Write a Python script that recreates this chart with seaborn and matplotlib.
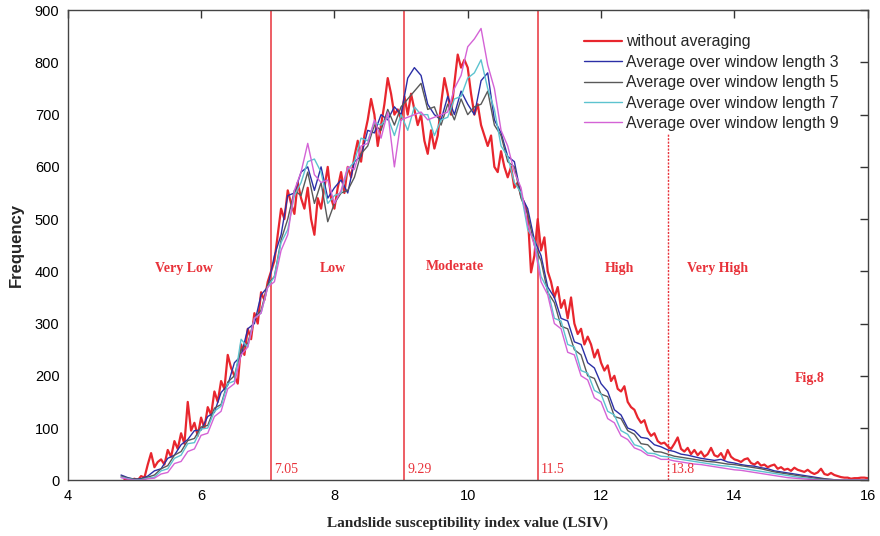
import numpy as np
import pandas as pd
import matplotlib
matplotlib.use("Agg")
from matplotlib import pyplot as plt
import seaborn as sns

# LSIV grids (bin centres)
lsiv_raw = np.round(np.arange(4.85, 16.001, 0.05), 2)
lsiv_avg = np.round(np.arange(4.8, 16.001, 0.1), 1)

# frequency without averaging (step 0.05)
freq_raw = [
    2, 0, 0,
    3, 0, 8, 5, 30, 52, 25, 35, 40, 30, 58, 45, 75, 60, 90, 70, 150, 95, 110, 85,
    120, 100, 140, 125, 170, 150, 190, 175, 240, 215, 200, 185, 260, 240, 290, 270, 320, 300, 360, 345,
    380, 400, 420, 470, 520, 500, 555, 530, 510, 570, 540, 520, 560, 500, 470, 540, 520, 560, 600, 540,
    520, 560, 590, 550, 600, 580, 620, 650, 610, 660, 690, 730, 700, 640, 680, 720, 770, 740, 700, 710,
    690, 735, 700, 740, 710, 680, 700, 650, 625, 670, 635, 660, 720, 770, 740, 700, 760, 815, 790, 805,
    790, 740, 700, 720, 680, 660, 640, 660, 600, 590, 630, 600, 580, 600, 560, 570, 545, 530, 510, 398,
    430, 500, 440, 465, 400, 380, 350, 370, 330, 345, 310, 350, 300, 280, 290, 260, 275, 260, 235, 250,
    225, 210, 220, 190, 200, 175, 170, 180, 150, 140, 135, 120, 110, 115, 95, 85, 90, 75, 70, 72,
    65, 60, 70, 82, 60, 55, 62, 50, 58, 48, 55, 45, 50, 62, 48, 45, 52, 40, 58, 45,
    40, 38, 35, 40, 42, 33, 30, 35, 28, 30, 25, 28, 30, 22, 25, 20, 22, 18, 24, 20,
    18, 16, 20, 15, 12, 15, 22, 12, 10, 14, 10, 8, 6, 5, 5, 3, 4, 4, 5, 5,
    4,
]

# averaged frequencies (step 0.1)
freq_w3 = [
    10, 5, 2, 3, 8, 18, 22, 42, 48, 68, 78, 95,
    96, 122, 130, 168, 182, 225, 238, 290, 300, 355,
    370, 430, 470, 545, 550, 590, 600, 555, 600, 540,
    560, 575, 550, 610, 620, 670, 665, 700, 690, 715,
    700, 770, 790, 775, 720, 700, 690, 735, 700, 745,
    720, 700, 765, 780, 690, 665, 620, 610, 545, 520,
    460, 430, 370, 350, 310, 305, 265, 260, 225, 215,
    185, 170, 135, 125, 100, 95, 82, 80, 68, 64,
    58, 55, 50, 48, 45, 42, 40, 38, 40, 35,
    33, 30, 28, 27, 24, 22, 18, 16, 14, 12,
    10, 8, 6, 4, 2, 1, 0, 0, 0, 0, 0,
]
freq_w5 = [
    8, 4, 2, 2, 6, 10, 22, 28, 48, 55, 76, 80,
    102, 105, 138, 145, 188, 200, 250, 262, 310, 325,
    375, 390, 460, 500, 555, 545, 590, 530, 570, 495,
    530, 550, 555, 580, 625, 640, 680, 670, 710, 680,
    715, 730, 745, 760, 710, 715, 680, 720, 690, 730,
    700, 715, 720, 745, 680, 660, 610, 600, 540, 510,
    450, 420, 360, 340, 295, 290, 250, 240, 200, 195,
    165, 160, 122, 118, 95, 88, 70, 68, 55, 54,
    50, 46, 44, 42, 40, 38, 36, 35, 33, 31,
    30, 28, 26, 24, 22, 19, 16, 14, 12, 10,
    8, 6, 4, 3, 2, 1, 0, 0, 0, 0, 0,
]
freq_w7 = [
    6, 3, 1, 1, 4, 6, 18, 22, 42, 48, 70, 72,
    98, 100, 132, 142, 185, 190, 270, 255, 310, 320,
    370, 390, 455, 480, 545, 570, 610, 615, 590, 530,
    545, 550, 595, 610, 655, 650, 685, 680, 695, 660,
    700, 670, 715, 700, 700, 660, 690, 695, 730, 735,
    770, 780, 805, 750, 710, 640, 620, 570, 550, 480,
    460, 390, 365, 310, 305, 260, 255, 210, 205, 172,
    165, 132, 125, 95, 88, 68, 64, 52, 51, 46,
    45, 42, 40, 38, 36, 34, 32, 30, 28, 27,
    25, 23, 21, 19, 17, 15, 13, 11, 9, 7,
    5, 4, 2, 1, 0, 0, 0, 0, 0, 0, 0,
]
freq_w9 = [
    5, 2, 0, 0, 3, 4, 12, 15, 32, 36, 55, 60,
    86, 90, 122, 132, 175, 185, 240, 255, 310, 320,
    370, 380, 440, 470, 555, 590, 645, 585, 570, 575,
    530, 555, 600, 595, 640, 645, 690, 655, 705, 600,
    690, 695, 700, 705, 690, 695, 700, 705, 750, 775,
    830, 845, 865, 795, 750, 670, 640, 590, 560, 490,
    450, 380, 355, 300, 290, 245, 240, 200, 192, 158,
    150, 118, 110, 85, 78, 62, 57, 48, 46, 40,
    40, 37, 35, 33, 31, 30, 28, 26, 24, 22,
    20, 19, 17, 15, 13, 11, 9, 7, 5, 4,
    3, 2, 1, 0, 0, 0, 0, 0, 0, 0, 0,
]

series_labels = [
    "without averaging",
    "Average over window length 3",
    "Average over window length 5",
    "Average over window length 7",
    "Average over window length 9",
]
series_colors = ["#e8262e", "#2b2fa6", "#595959", "#5cc3cf", "#d463d6"]
series_widths = [1.6, 1.0, 1.0, 1.0, 1.0]

thresholds = [7.05, 9.05, 11.05, 13.0]
threshold_labels = ["7.05", "9.29", "11.5", "13.8"]

classes = ["Very Low", "Low", "Moderate", "High", "Very High"]
class_x = [5.75, 7.97, 9.8, 12.28, 13.75]
class_y = [405, 405, 410, 405, 405]

sns.set_style("white")
plt.rcParams["font.family"] = ["Liberation Sans", "DejaVu Sans"]

fig = plt.figure(figsize=(8.8, 5.36), dpi=100)
ax = fig.add_axes([0.077, 0.104, 0.909, 0.877])

xs = [lsiv_raw] + [lsiv_avg] * 4
ys = [freq_raw, freq_w3, freq_w5, freq_w7, freq_w9]
for x, y, lab, col, lw in zip(xs, ys, series_labels, series_colors, series_widths):
    d = pd.DataFrame({"lsiv": x, "freq": y})
    sns.lineplot(data=d, x="lsiv", y="freq", color=col, linewidth=lw, label=lab, ax=ax)

red = "#e8323a"
for t in thresholds[:3]:
    ax.axvline(t, color=red, linewidth=1.1, zorder=1)
ax.axvline(thresholds[3], ymax=665 / 900, color=red, linewidth=1.0, linestyle=(0, (1.5, 1)), zorder=1)

serif = ["Liberation Serif", "DejaVu Serif"]
for t, lab in zip(thresholds, threshold_labels):
    ax.text(t + 0.05, 8, lab, color=red, fontsize=10, family=serif, va="bottom", ha="left")
for c, cx, cy in zip(classes, class_x, class_y):
    ax.text(cx, cy, c, color=red, fontsize=10, family=serif, fontweight="bold", ha="center", va="center")
ax.text(15.13, 195, "Fig.8", color=red, fontsize=10, family=serif, fontweight="bold", ha="center", va="center")

ax.set_xlim(4, 16)
ax.set_ylim(0, 900)
ax.set_xticks(range(4, 17, 2))
ax.set_yticks(range(0, 901, 100))
ax.tick_params(direction="in", length=6, width=1, labelsize=10.5, top=True, right=True,
               colors="#333333", labelcolor="black", pad=6)
for s in ax.spines.values():
    s.set_color("#444444")
    s.set_linewidth(1.0)

ax.set_xlabel("Landslide susceptibility index value (LSIV)", family=serif, fontweight="bold", fontsize=11, labelpad=10)
ax.set_ylabel("Frequency", fontweight="bold", fontsize=12, labelpad=8)

leg = ax.legend(loc="upper left", bbox_to_anchor=(0.638, 0.962), frameon=False, fontsize=11.4,
                handlelength=2.4, labelspacing=0.34, handletextpad=0.25, borderaxespad=0)

fig.savefig("out.png", dpi=100)
